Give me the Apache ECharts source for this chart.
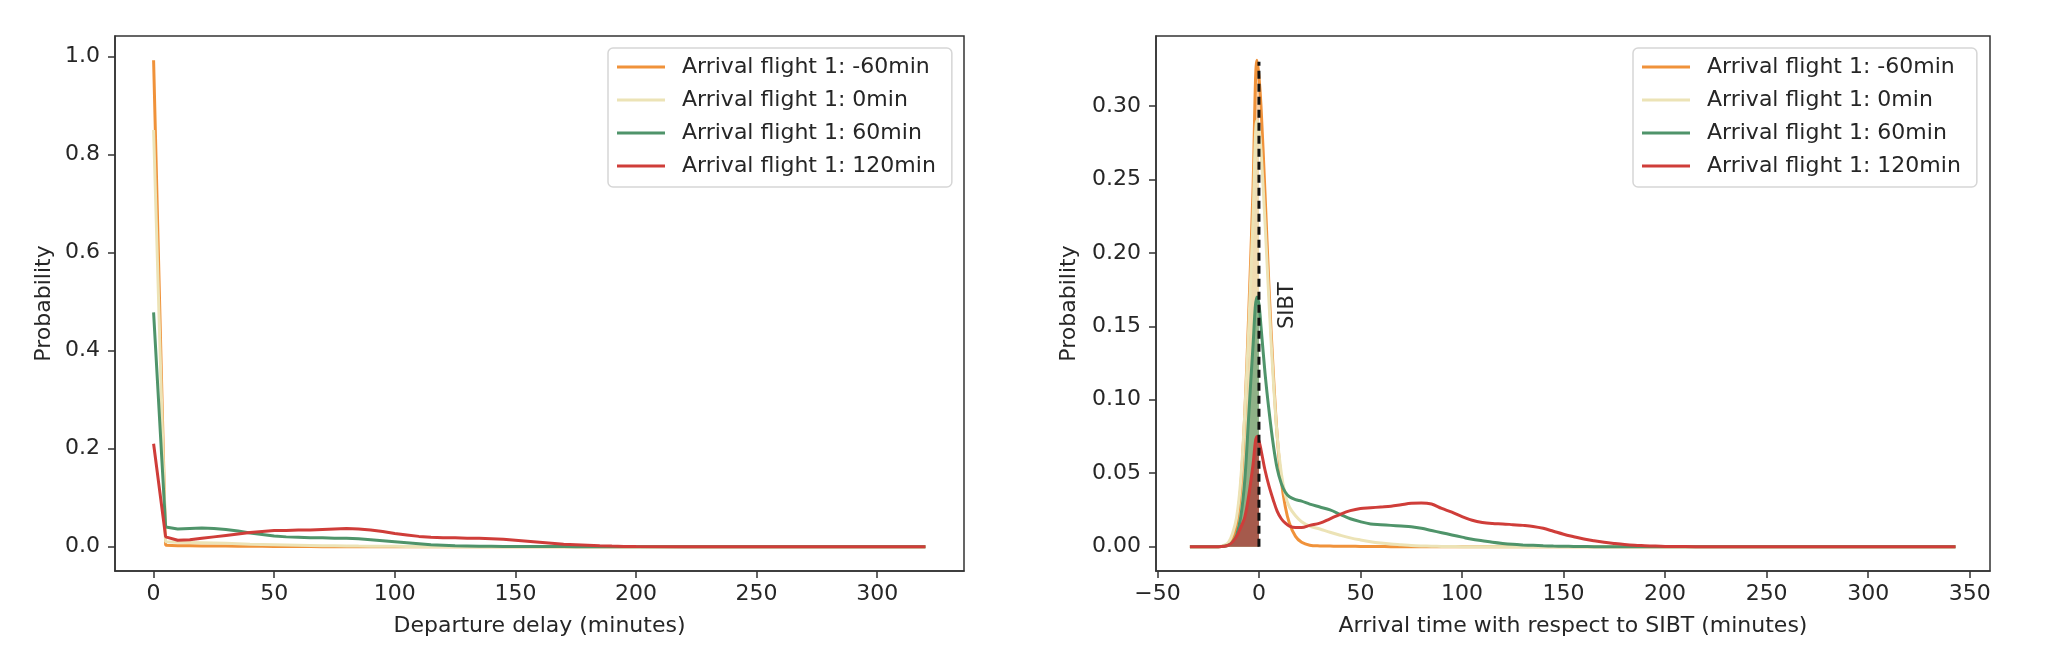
<!DOCTYPE html>
<html>
<head>
<meta charset="utf-8">
<script src="https://cdn.jsdelivr.net/npm/echarts@6.0.0/dist/echarts.min.js"></script>
<style>
  html, body { margin: 0; padding: 0; background: #fff; }
  #chart { width: 2046px; height: 672px; }
</style>
</head>
<body>
<div id="chart"></div>
<script>
// series names + colours
var names = ['Arrival flight 1: -60min', 'Arrival flight 1: 0min', 'Arrival flight 1: 60min', 'Arrival flight 1: 120min']
var colors = ['#f0923a', '#ece3b6', '#4f946a', '#cf3d39']
var fillColors = ['rgba(240,146,58,0.45)', 'rgba(236,227,182,0.7)', 'rgba(79,148,106,0.6)', 'rgba(172,62,56,0.75)']

// left panel: departure delay
var delayX = [0, 5, 10, 15, 20, 25, 30, 35, 40, 45, 50, 55, 60, 65, 70, 75, 80, 85, 90, 95, 100,
  105, 110, 115, 120, 125, 130, 135, 140, 145, 150, 155, 160, 165, 170, 175, 180, 185, 190, 195, 200,
  220, 240, 260, 280, 300, 320]
var delayM60 = [0.992, 0.003, 0.002, 0.0018, 0.0015, 0.0013, 0.0012, 0.001, 0.0009, 0.0008, 0.0006,
  0.0005, 0.0003, 0.0002, 0.0001, 0, 0, 0, 0, 0, 0,
  0, 0, 0, 0, 0, 0, 0, 0, 0, 0, 0, 0, 0, 0, 0, 0, 0, 0, 0, 0,
  0, 0, 0, 0, 0, 0]
var delay0 = [0.85, 0.01, 0.009, 0.0085, 0.008, 0.0075, 0.007, 0.006, 0.005, 0.0045, 0.004,
  0.0035, 0.003, 0.0025, 0.002, 0.0018, 0.0015, 0.0012, 0.001, 0.0008, 0.0007,
  0.0005, 0.0004, 0.0003, 0.0002, 0.0001, 0, 0, 0, 0, 0, 0, 0, 0, 0, 0, 0, 0, 0, 0, 0,
  0, 0, 0, 0, 0, 0]
var delay60 = [0.478, 0.04, 0.036, 0.037, 0.038, 0.037, 0.035, 0.032, 0.028, 0.025, 0.022,
  0.02, 0.019, 0.018, 0.018, 0.017, 0.017, 0.016, 0.014, 0.012, 0.01,
  0.008, 0.006, 0.004, 0.003, 0.002, 0.0015, 0.001, 0.0008, 0.0006, 0.0005, 0.0004, 0.0003, 0.0002, 0.0002, 0.0001, 0, 0, 0, 0, 0,
  0, 0, 0, 0, 0, 0]
var delay120 = [0.21, 0.02, 0.013, 0.014, 0.017, 0.02, 0.023, 0.026, 0.029, 0.031, 0.033,
  0.033, 0.034, 0.034, 0.035, 0.036, 0.037, 0.036, 0.034, 0.031, 0.027,
  0.024, 0.021, 0.019, 0.018, 0.018, 0.017, 0.017, 0.016, 0.015, 0.013, 0.011, 0.009, 0.007, 0.005, 0.004, 0.003, 0.002, 0.0012, 0.0006, 0.0003,
  0, 0, 0, 0, 0, 0]

// right panel: arrival time w.r.t. SIBT
var arrX = [-34, -30, -25, -20, -17, -15, -13, -11, -9, -7, -5, -3, -1, 0, 1, 3, 5, 7, 9, 11,
  13, 15, 18, 21, 25, 30, 35, 40, 45, 50, 55, 60, 65, 70, 75, 80, 85, 90, 95, 100,
  105, 110, 115, 120, 125, 130, 135, 140, 145, 150, 155, 160, 165, 170, 175, 180, 185, 190, 195, 200,
  210, 220, 240, 260, 280, 300, 320, 343]
var arrM60 = [0, 0, 0, 0, 0.0005, 0.002, 0.006, 0.016, 0.04, 0.09, 0.16, 0.24, 0.331, 0.32, 0.3, 0.24, 0.175, 0.12, 0.075, 0.045,
  0.027, 0.016, 0.007, 0.003, 0.001, 0.0005, 0.0004, 0.0003, 0.0003, 0.0002, 0.0002, 0.0001, 0, 0, 0, 0, 0, 0, 0, 0,
  0, 0, 0, 0, 0, 0, 0, 0, 0, 0, 0, 0, 0, 0, 0, 0, 0, 0, 0, 0,
  0, 0, 0, 0, 0, 0, 0, 0]
var arr0 = [0, 0, 0, 0, 0.001, 0.003, 0.009, 0.02, 0.045, 0.09, 0.15, 0.22, 0.29, 0.285, 0.27, 0.22, 0.165, 0.115, 0.075, 0.05,
  0.035, 0.027, 0.021, 0.017, 0.014, 0.012, 0.0098, 0.0078, 0.006, 0.0046, 0.0034, 0.0025, 0.0018, 0.0013, 0.0008, 0.0005, 0.0003, 0.0002, 0.0001, 0,
  0, 0, 0, 0, 0, 0, 0, 0, 0, 0, 0, 0, 0, 0, 0, 0, 0, 0, 0, 0,
  0, 0, 0, 0, 0, 0, 0, 0]
var arr60 = [0, 0, 0, 0, 0.0003, 0.001, 0.003, 0.008, 0.02, 0.045, 0.09, 0.135, 0.17, 0.165, 0.15, 0.118, 0.092, 0.07, 0.053, 0.043,
  0.037, 0.034, 0.032, 0.031, 0.029, 0.027, 0.025, 0.022, 0.019, 0.017, 0.0155, 0.015, 0.0145, 0.014, 0.0135, 0.0125, 0.011, 0.0095, 0.008, 0.0065,
  0.005, 0.004, 0.003, 0.0022, 0.0016, 0.0012, 0.0009, 0.0006, 0.0004, 0.0003, 0.0002, 0.0001, 0, 0, 0, 0, 0, 0, 0, 0,
  0, 0, 0, 0, 0, 0, 0, 0]
var arr120 = [0, 0, 0, 0, 0.0003, 0.001, 0.003, 0.007, 0.013, 0.02, 0.035, 0.055, 0.075, 0.072, 0.066, 0.052, 0.041, 0.032, 0.024, 0.019,
  0.016, 0.014, 0.013, 0.013, 0.0145, 0.016, 0.019, 0.022, 0.0245, 0.026, 0.0265, 0.027, 0.0275, 0.0285, 0.0295, 0.0298, 0.029, 0.026, 0.0235, 0.0205,
  0.018, 0.0165, 0.0158, 0.0155, 0.015, 0.0145, 0.0138, 0.0125, 0.0105, 0.0085, 0.0068, 0.0052, 0.004, 0.003, 0.0022, 0.0015, 0.001, 0.0007, 0.0004, 0.0002,
  0.0001, 0, 0, 0, 0, 0, 0, 0]
var sibtLine = [[0, 0], [0, 0.33]]
var sibtLabel = [14, 0.164]

// ticks
var delayTicks = [0, 50, 100, 150, 200, 250, 300]
var probTicksL = [0, 0.2, 0.4, 0.6, 0.8, 1.0]
var arrTicks = [-50, 0, 50, 100, 150, 200, 250, 300, 350]
var probTicksR = [0, 0.05, 0.1, 0.15, 0.2, 0.25, 0.3]

var font = 'DejaVu Sans'
var ink = '#262626'

function pairs(xs, ys) { return xs.map(function (x, i) { return [x, ys[i]] }) }
function minus(v) { return String(v).replace('-', '\u2212') }

function axisX(idx, min, max, ticks, name) {
  return {
    type: 'value', gridIndex: idx, min: min, max: max,
    name: name, nameLocation: 'middle', nameGap: 44,
    nameTextStyle: { fontFamily: font, fontSize: 22, color: ink },
    axisLine: { show: true, onZero: false, lineStyle: { color: '#333', width: 1.5 } },
    axisTick: { show: true, length: 7, customValues: ticks, lineStyle: { color: '#333', width: 1.5 } },
    axisLabel: { customValues: ticks, margin: 12, fontFamily: font, fontSize: 22, color: ink, formatter: minus },
    splitLine: { show: false }
  }
}
function axisY(idx, min, max, ticks, digits, gap) {
  return {
    type: 'value', gridIndex: idx, min: min, max: max,
    name: 'Probability', nameLocation: 'middle', nameGap: gap,
    nameTextStyle: { fontFamily: font, fontSize: 22, color: ink },
    axisLine: { show: true, onZero: false, lineStyle: { color: '#333', width: 1.5 } },
    axisTick: { show: true, length: 7, customValues: ticks, lineStyle: { color: '#333', width: 1.5 } },
    axisLabel: { customValues: ticks, margin: 15, fontFamily: font, fontSize: 22, color: ink,
      formatter: function (v) { return minus(v.toFixed(digits)) } },
    splitLine: { show: false }
  }
}
function legend(left) {
  return {
    data: names, orient: 'vertical', left: left, top: 48,
    icon: 'rect', itemWidth: 48, itemHeight: 3, itemGap: 11,
    padding: [8, 16, 10, 9],
    backgroundColor: 'rgba(255,255,255,0.8)', borderColor: '#d6d6d6', borderWidth: 1.5, borderRadius: 5,
    selectedMode: false,
    textStyle: { fontFamily: font, fontSize: 22, color: ink, padding: [0, 0, 0, 12] }
  }
}

var delaySets = [delayM60, delay0, delay60, delay120]
var arrSets = [arrM60, arr0, arr60, arr120]
var series = []
arrSets.forEach(function (ys, i) {
  series.push({
    name: 'fill' + i, type: 'line', xAxisIndex: 1, yAxisIndex: 1, z: 1,
    data: pairs(arrX, ys).filter(function (p) { return p[0] <= 0 }),
    smooth: 0.35, showSymbol: false, silent: true,
    lineStyle: { width: 0 }, itemStyle: { color: colors[i] },
    areaStyle: { color: fillColors[i], opacity: 1 }
  })
})
delaySets.forEach(function (ys, i) {
  series.push({
    name: names[i], type: 'line', xAxisIndex: 0, yAxisIndex: 0, z: 2,
    data: pairs(delayX, ys), showSymbol: false,
    itemStyle: { color: colors[i] }, lineStyle: { color: colors[i], width: 3 }
  })
})
arrSets.forEach(function (ys, i) {
  series.push({
    name: names[i], type: 'line', xAxisIndex: 1, yAxisIndex: 1, z: 2,
    data: pairs(arrX, ys), smooth: 0.35, showSymbol: false,
    itemStyle: { color: colors[i] }, lineStyle: { color: colors[i], width: 3 }
  })
})
series.push({
  name: 'SIBT', type: 'line', xAxisIndex: 1, yAxisIndex: 1, z: 3,
  data: sibtLine, showSymbol: false,
  lineStyle: { color: '#111', width: 3, type: [8, 5] }
})

var myChart = echarts.init(document.getElementById('chart'), null, { renderer: 'canvas' })
var option = {
  backgroundColor: '#fff',
  animation: false,
  grid: [
    { left: 115, right: 1082, top: 36, bottom: 101, show: true, borderColor: '#333', borderWidth: 1.5 },
    { left: 1156, right: 56, top: 36, bottom: 101, show: true, borderColor: '#333', borderWidth: 1.5 }
  ],
  xAxis: [
    axisX(0, -16, 336, delayTicks, 'Departure delay (minutes)'),
    axisX(1, -50.7, 360, arrTicks, 'Arrival time with respect to SIBT (minutes)')
  ],
  yAxis: [
    axisY(0, -0.0496, 1.0416, probTicksL, 1, 60),
    axisY(1, -0.01655, 0.34755, probTicksR, 2, 76)
  ],
  legend: [legend(608), legend(1633)],
  series: series
}
myChart.setOption(option)

var p = myChart.convertToPixel({ xAxisIndex: 1, yAxisIndex: 1 }, sibtLabel)
myChart.setOption({
  graphic: [{
    type: 'text', x: p[0], y: p[1], rotation: Math.PI / 2,
    style: { text: 'SIBT', fontFamily: font, fontSize: 21, fill: ink, align: 'center', verticalAlign: 'middle' }
  }]
})
</script>
</body>
</html>
